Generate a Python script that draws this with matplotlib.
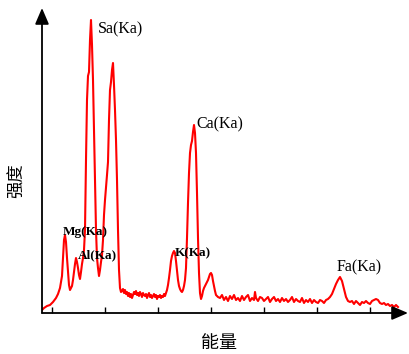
import numpy as np
import matplotlib.pyplot as plt

# spectrum: channel (energy axis) and counts
channel = [42, 44, 47, 50, 53, 56, 58, 60, 62, 63, 64, 65, 66, 67, 68, 69, 70, 71, 72, 73,
           74, 75, 76, 77, 78, 79, 80, 81, 82, 83, 84, 85, 86, 87, 88, 89, 90, 91, 92, 93,
           94, 95, 96, 97, 98, 99, 100, 101, 102, 103, 104, 105, 106, 107, 108, 109, 110,
           111, 112, 113, 114, 115, 116, 117, 118, 119, 120, 121,
           122, 123, 124, 125, 126, 127, 128, 129, 130, 131, 132, 133, 134, 135, 136, 137,
           138, 139, 140, 141, 142, 143, 144, 145, 146, 147, 148, 149, 150, 151, 152, 153,
           154, 155, 156, 157, 158, 159, 160, 161, 162, 163, 164, 165, 166, 167,
           168, 169, 170, 171, 172, 173, 174, 175, 176, 177, 178, 179, 180, 181, 182, 183,
           184, 185, 186, 187, 188, 189, 190, 191, 192, 193, 194, 195, 196, 197, 198, 199,
           200, 201, 202, 203, 204, 205, 206, 207, 208, 209, 210, 211, 212, 213, 214, 215,
           216, 217, 218,
           220, 222, 224, 226, 228, 230, 232, 234, 236, 238, 240, 242, 244, 246, 248, 250,
           252, 254, 255, 256, 258, 260, 262, 264, 266, 268, 270, 272, 274, 276, 278, 280,
           282, 284, 286, 288, 290, 292, 294, 296, 298, 300, 302, 304, 306, 308, 310, 312,
           314, 316, 318, 320, 322, 324, 326, 328,
           330, 332, 334, 336, 338, 340, 342, 344, 346, 348,
           350, 352, 354, 356, 358, 360, 362, 364, 366, 368, 370, 372, 374, 376, 378, 380,
           382, 384, 386, 388, 390, 392, 394, 396, 398]
counts = [3, 5, 7, 8, 11, 15, 19, 25, 37, 55, 73, 78, 71, 55, 41, 28, 23, 25, 27, 33,
          41, 49, 55, 51, 45, 38, 34, 41, 49, 55, 63, 83, 153, 213, 237, 241, 273, 293, 268, 233,
          183, 133, 83, 55, 45, 37, 43, 51, 58, 73, 98, 113, 125, 138, 151, 193, 223,
          231, 243, 250, 228, 203, 173, 133, 83, 43, 25, 21,
          22, 24, 20, 23, 19, 21, 17, 20, 16, 19, 15, 18, 21, 19, 22, 18,
          20, 17, 21, 19, 16, 20, 18, 17, 19, 15, 18, 20, 16, 18, 15, 17,
          19, 16, 18, 14, 17, 16, 18, 15, 17, 16, 19, 17, 20, 23,
          28, 35, 43, 52, 57, 60, 62, 60, 52, 42, 33, 27, 24, 22, 21, 23,
          27, 33, 45, 75, 110, 140, 160, 168, 172, 181, 188, 180, 160, 120, 75, 40,
          20, 14, 17, 22, 25, 27, 29, 31, 33, 36, 39, 40, 38, 32, 27, 22,
          18, 17, 16,
          15, 18, 13, 16, 12, 17, 14, 18, 13, 15, 12, 17, 13, 16, 18, 12,
          15, 13, 21, 15, 12, 16, 15, 12, 14, 16, 11, 14, 16, 12, 14, 11,
          15, 12, 14, 11, 13, 16, 11, 14, 12, 11, 15, 10, 13, 11, 14, 10,
          13, 11, 10, 13, 12, 10, 13, 14,
          16, 19, 24, 29, 33, 36, 32, 24, 16, 12,
          11, 12, 9, 12, 10, 8, 11, 10, 12, 10, 9, 12, 13, 14, 13, 10,
          9, 10, 8, 9, 7, 8, 6, 8, 6]

tick_pos = [51.7, 104.7, 157.7, 210.7, 263.7, 316.7, 369.7]

# peak labels: text, channel, counts at text baseline, bold or not
peak_names = ['Sa(Ka)', 'Ca(Ka)', 'Fa(Ka)', 'Mg(Ka)', 'Al(Ka)', 'K(Ka)']
peak_x = [98, 196, 337, 63, 78, 175]
peak_y = [280, 185, 42, 78, 55, 57]
peak_bold = [False, False, False, True, True, True]

fig = plt.figure(figsize=(4.09, 3.54), dpi=100)
ax = fig.add_axes([42 / 409, (354 - 313) / 354, (408 - 42) / 409, (313 - 8) / 354])
ax.plot(channel, counts, color='#ff0000', lw=1.5)
ax.set_xlim(42, 408)
ax.set_ylim(0, 305)

for s in ax.spines.values():
    s.set_visible(False)
ax.set_xticks(tick_pos)
ax.set_xticklabels([])
ax.tick_params(axis='x', direction='in', length=4, width=1, color='black')
ax.set_yticks([])

arrow = dict(arrowstyle='-|>,head_length=0.7,head_width=0.3', color='black', lw=1.3,
             shrinkA=0, shrinkB=0, mutation_scale=14)
ax.annotate('', xy=(0, 1), xytext=(0, 0), xycoords='axes fraction', arrowprops=arrow)
ax.annotate('', xy=(1, 0), xytext=(0, 0), xycoords='axes fraction', arrowprops=arrow)

for name, x, y, b in zip(peak_names, peak_x, peak_y, peak_bold):
    if b:
        ax.text(x, y, name, family='Liberation Serif', fontsize=9.5, fontweight='bold',
                color='black', ha='left', va='baseline')
    else:
        ax.text(x, y, name, family='Liberation Serif', fontsize=11.5, color='black',
                ha='left', va='baseline')

fig.text(17 / 409, 1 - 181 / 354, '强度', family=['Noto Sans CJK SC', 'DejaVu Sans'],
         fontsize=12.5, rotation=90, ha='center', va='center', fontweight='light')
fig.text(219 / 409, 1 - 343 / 354, '能量', family=['Noto Sans CJK SC', 'DejaVu Sans'],
         fontsize=13, ha='center', va='center', fontweight='light')

fig.savefig('out.png', dpi=100)
